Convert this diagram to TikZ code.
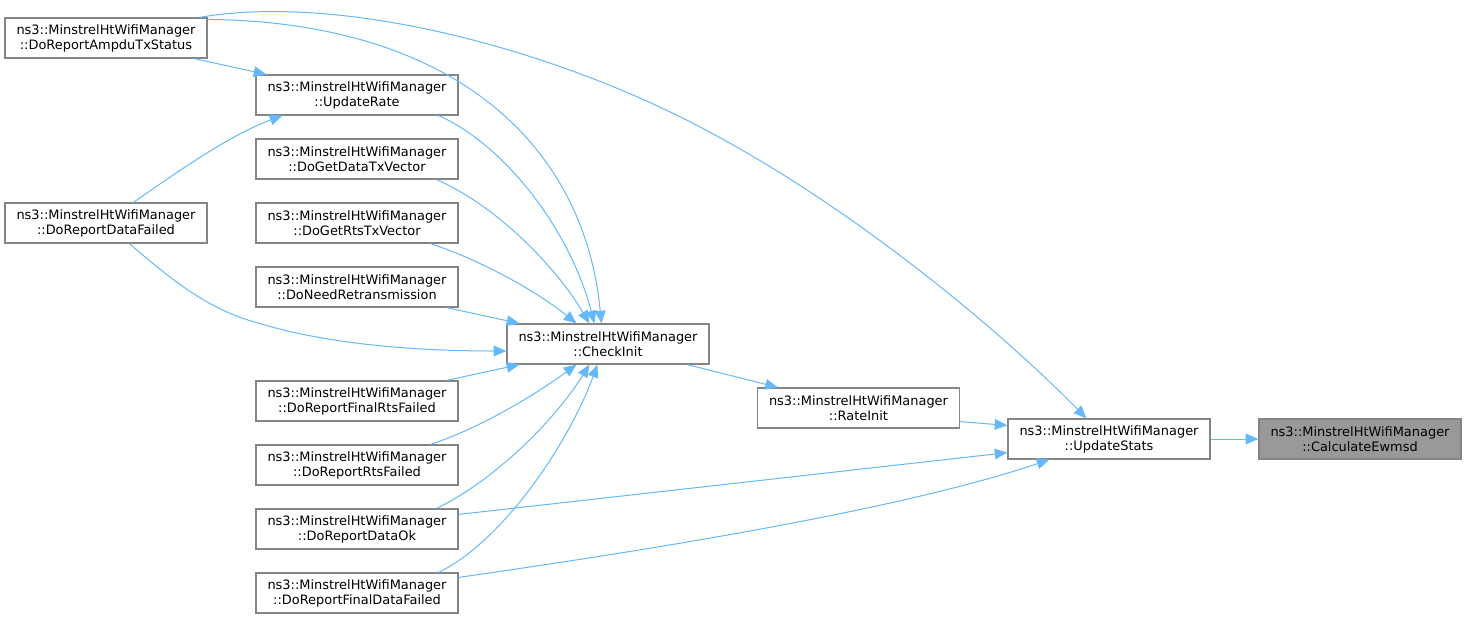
\documentclass[tikz,border=0pt]{standalone}
\usepackage{fontspec}
\setmainfont{DejaVu Sans}
\usetikzlibrary{arrows.meta,calc}
\definecolor{edgeblue}{HTML}{63B8FF}
\definecolor{boxline}{HTML}{858585}
\definecolor{hlfill}{HTML}{999999}
\tikzset{
  fn/.style={draw=boxline,line width=0.9pt,fill=white,rectangle,inner sep=0pt,
    minimum width=151.5pt,minimum height=30pt,align=center,
    font=\fontsize{9.7pt}{11.3pt}\selectfont},
  hl/.style={fn,fill=hlfill},
  call/.style={draw=edgeblue,line width=0.75pt,-{Triangle[length=9.5pt,width=8pt]}},
}
\begin{document}
\begin{tikzpicture}[x=0.75pt,y=-0.75pt]
\useasboundingbox (0,0) rectangle (1467,619);
\node[fn] (ampdu) at (106,38) {ns3::MinstrelHtWifiManager\\::DoReportAmpduTxStatus};
\node[fn] (urate) at (357,95) {ns3::MinstrelHtWifiManager\\::UpdateRate};
\node[fn] (gdata) at (357,159) {ns3::MinstrelHtWifiManager\\::DoGetDataTxVector};
\node[fn] (grts) at (357,223) {ns3::MinstrelHtWifiManager\\::DoGetRtsTxVector};
\node[fn] (dfail) at (106,223) {ns3::MinstrelHtWifiManager\\::DoReportDataFailed};
\node[fn] (need) at (357,287) {ns3::MinstrelHtWifiManager\\::DoNeedRetransmission};
\node[fn] (check) at (608,344) {ns3::MinstrelHtWifiManager\\::CheckInit};
\node[fn] (frts) at (357,401) {ns3::MinstrelHtWifiManager\\::DoReportFinalRtsFailed};
\node[fn] (rts) at (357,465) {ns3::MinstrelHtWifiManager\\::DoReportRtsFailed};
\node[fn] (dok) at (357,529) {ns3::MinstrelHtWifiManager\\::DoReportDataOk};
\node[fn] (fdata) at (357,593) {ns3::MinstrelHtWifiManager\\::DoReportFinalDataFailed};
\node[fn] (rinit) at (858.5,408) {ns3::MinstrelHtWifiManager\\::RateInit};
\node[fn] (ustats) at (1109,439) {ns3::MinstrelHtWifiManager\\::UpdateStats};
\node[hl] (calc) at (1360,439) {ns3::MinstrelHtWifiManager\\::CalculateEwmsd};

% UpdateStats -> CalculateEwmsd
\draw[call] (ustats.east) -- (calc.west);
% RateInit -> UpdateStats
\draw[call] ($(rinit.south east)+(0,-7)$) -- ($(ustats.north west)+(0,7)$);
% DoReportAmpduTxStatus -> UpdateStats
\draw[call] ($(ampdu.north west)+(195,0)$) .. controls (340,-7) and (550,48) .. (700,127)
   .. controls (850,205) and (1000,330) .. ($(ustats.north west)+(79,0)$);
% DoReportDataOk -> UpdateStats
\draw[call] ($(dok.north east)+(0,6)$) -- ($(ustats.south west)+(0,-7)$);
% DoReportFinalDataFailed -> UpdateStats
\draw[call] ($(fdata.north east)+(0,5)$) .. controls (650,550) and (900,510) .. ($(ustats.south west)+(42,0)$);
% CheckInit -> RateInit
\draw[call] ($(check.south west)+(181,0)$) -- ($(rinit.north west)+(21,0)$);
% DoReportAmpduTxStatus -> UpdateRate
\draw[call] ($(ampdu.south west)+(190,0)$) -- ($(urate.north west)+(11,0)$);
% DoReportDataFailed -> UpdateRate
\draw[call] ($(dfail.north west)+(129,0)$) .. controls (180,170) and (230,135) .. ($(urate.south west)+(27,0)$);
% DoReportAmpduTxStatus -> CheckInit
\draw[call] ($(ampdu.north east)+(0,2)$) .. controls (460,22) and (585,150) .. ($(check.north west)+(95,0)$);
% UpdateRate -> CheckInit
\draw[call] ($(urate.south east)+(-20,0)$) .. controls (505,145) and (570,230) .. ($(check.north west)+(88,0)$);
% DoGetDataTxVector -> CheckInit
\draw[call] ($(gdata.south east)+(-22,0)$) .. controls (495,205) and (555,265) .. ($(check.north west)+(83,0)$);
% DoGetRtsTxVector -> CheckInit
\draw[call] ($(grts.south east)+(-28,0)$) .. controls (480,260) and (535,290) .. ($(check.north west)+(70,0)$);
% DoNeedRetransmission -> CheckInit
\draw[call] ($(need.south east)+(-12,0)$) -- ($(check.north west)+(13,0)$);
% DoReportDataFailed -> CheckInit
\draw[call] ($(dfail.south west)+(125,0)$) .. controls (175,283) and (210,310) .. (258,323)
   .. controls (330,345) and (420,351) .. ($(check.west)+(0,7)$);
% DoReportFinalRtsFailed -> CheckInit
\draw[call] ($(frts.north east)+(-12,0)$) -- ($(check.south west)+(13,0)$);
% DoReportRtsFailed -> CheckInit
\draw[call] ($(rts.north east)+(-28,0)$) .. controls (480,428) and (535,395) .. ($(check.south west)+(70,0)$);
% DoReportDataOk -> CheckInit
\draw[call] ($(dok.north east)+(-22,0)$) .. controls (495,480) and (555,420) .. ($(check.south west)+(83,0)$);
% DoReportFinalDataFailed -> CheckInit
\draw[call] ($(fdata.north east)+(-20,0)$) .. controls (505,540) and (570,440) .. ($(check.south west)+(91,0)$);
\end{tikzpicture}
\end{document}
